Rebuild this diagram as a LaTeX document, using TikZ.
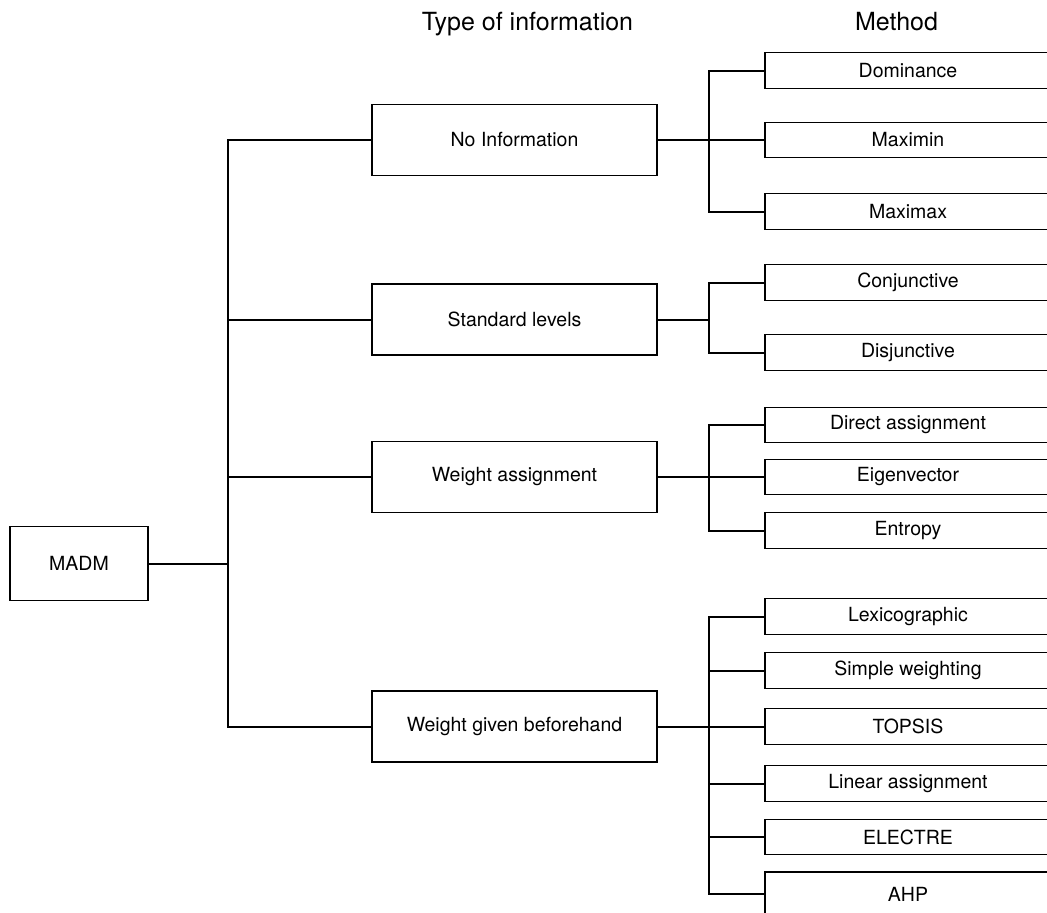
\documentclass[tikz,border=0pt]{standalone}
\usepackage{fontspec}
\setmainfont{TeX Gyre Heros}
\begin{document}
\begin{tikzpicture}[x=1pt,y=-1pt,
  box/.style={draw,line width=1.3pt,inner sep=0pt,align=center,font=\fontsize{19.5}{23}\selectfont},
  typebox/.style={box,minimum width=285pt,minimum height=71pt},
  methbox/.style={box,minimum width=286pt,minimum height=35.5pt},
  conn/.style={line width=2pt,line join=miter},
  head/.style={font=\fontsize{25}{29}\selectfont,anchor=base,inner sep=0pt}]
\useasboundingbox (0,0) rectangle (1047,913);
\clip (0,0) rectangle (1047,913);
\fill[white] (0,0) rectangle (1047,913);

% headings
\node[head] (h1) at (527.5,30) {Type of information};
\node[head] (h2) at (896.5,30) {Method};

% root
\node[box,minimum width=138pt,minimum height=74pt] (madm) at (79,563.5) {MADM};

% types
\node[typebox] (ni) at (514.5,140) {No Information};
\node[typebox] (sl) at (514.5,319.5) {Standard levels};
\node[typebox] (wa) at (514.5,477) {Weight assignment};
\node[typebox] (wg) at (514.5,726.5) {Weight given beforehand};

% methods (open on the right: box extends past the edge)
\begin{scope}[every node/.append style={methbox}]
\node (dom) at (908,70.5) {Dominance};
\node (mmn) at (908,140) {Maximin};
\node (mmx) at (908,211.5) {Maximax};
\node (con) at (908,282.5) {Conjunctive};
\node (dis) at (908,352.5) {Disjunctive};
\node (dir) at (908,425) {Direct assignment};
\node (eig) at (908,477) {Eigenvector};
\node (ent) at (908,530.5) {Entropy};
\node (lex) at (908,616.5) {Lexicographic};
\node (sim) at (908,670.5) {Simple weighting};
\node (top) at (908,726.5) {TOPSIS};
\node (lin) at (908,783.5) {Linear assignment};
\node (ele) at (908,837) {ELECTRE};
\node[minimum height=44pt] (ahp) at (908,894) {AHP};
\end{scope}

\coordinate (tx) at (228,0);
\coordinate (bx) at (709,0);

% trunk
\draw[conn] (madm.east) -- (madm.east -| tx);
\draw[conn] (ni.west) -- (ni.west -| tx) -- (wg.west -| tx) -- (wg.west);
\draw[conn] (sl.west) -- (sl.west -| tx);
\draw[conn] (wa.west) -- (wa.west -| tx);

% No information
\draw[conn] (ni.east) -- (mmn.west);
\draw[conn] (dom.west) -- (dom.west -| bx) -- (mmx.west -| bx) -- (mmx.west);

% Standard levels
\draw[conn] (sl.east) -- (sl.east -| bx);
\draw[conn] (con.west) -- (con.west -| bx) -- (dis.west -| bx) -- (dis.west);

% Weight assignment
\draw[conn] (wa.east) -- (eig.west);
\draw[conn] (dir.west) -- (dir.west -| bx) -- (ent.west -| bx) -- (ent.west);

% Weight given beforehand
\draw[conn] (wg.east) -- (top.west);
\draw[conn] (lex.west) -- (lex.west -| bx) -- (ahp.west -| bx) -- (ahp.west);
\draw[conn] (sim.west) -- (sim.west -| bx);
\draw[conn] (lin.west) -- (lin.west -| bx);
\draw[conn] (ele.west) -- (ele.west -| bx);
\end{tikzpicture}
\end{document}
